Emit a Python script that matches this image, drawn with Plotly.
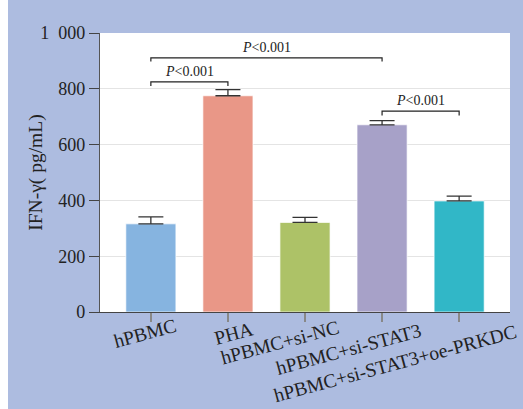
import plotly.graph_objects as go

categories = ["hPBMC", "PHA", "hPBMC+si-NC", "hPBMC+si-STAT3", "hPBMC+si-STAT3+oe-PRKDC"]
means = [316, 775, 321, 671, 398]
errors = [25, 22, 18, 15, 17]
colors = ["#86B4E0", "#E99787", "#ADC267", "#A7A1C8", "#31B7C7"]
ytick_vals = [0, 200, 400, 600, 800, 1000]
ytick_text = ["0", "200", "400", "600", "800", "1\u2007000"]
# significance brackets: (left index, right index, top value, tail value)
brackets = [(0, 3, 911, 898), (0, 1, 825, 810), (3, 4, 720, 704)]
p_text = "<i>P</i>&lt;0.001"
# label offsets (px) relative to tick: dx, dy
label_dx = [-6, 6, -25, -34, -64]
label_dy = [-21, -21, -30, -37, -51]

BG = "rgb(173,188,224)"
xs = list(range(len(categories)))

fig = go.Figure()
fig.add_trace(go.Bar(
    x=xs, y=means, width=0.65,
    marker=dict(color=colors, line=dict(color="rgba(255,255,255,0.7)", width=1)),
    error_y=dict(type="data", array=errors, arrayminus=[0] * len(errors),
                 symmetric=False, visible=True, color="#333333",
                 thickness=1.3, width=12.5),
    showlegend=False,
))

for a, b, top, tail in brackets:
    fig.add_trace(go.Scatter(
        x=[a, a, b, b], y=[tail, top, top, tail], mode="lines",
        line=dict(color="#222222", width=1.2), showlegend=False, hoverinfo="skip",
    ))
    fig.add_annotation(x=(a + b) / 2, y=top, xref="x", yref="y", text=p_text,
                       showarrow=False, yanchor="bottom", yshift=1,
                       font=dict(family="Liberation Serif", size=14, color="#222222"))

for i, lab in enumerate(categories):
    fig.add_annotation(x=i, y=0, xref="x", yref="y", text=lab, showarrow=False,
                       textangle=-15, xanchor="center", yanchor="middle",
                       xshift=label_dx[i], yshift=label_dy[i],
                       font=dict(family="Liberation Serif", size=19.5, color="#222222"))

# y-axis title
fig.add_annotation(x=-0.158, y=0.5, xref="paper", yref="paper", text="IFN-\u03b3( pg/mL)",
                   showarrow=False, textangle=-90, xanchor="center", yanchor="middle",
                   font=dict(family="Liberation Serif", size=19.5, color="#222222"))

# white strip at left edge of page
fig.add_shape(type="rect", xref="paper", yref="paper", x0=-0.26, x1=-0.2244,
              y0=-0.4, y1=1.2, fillcolor="white", line=dict(width=0), layer="below")

fig.update_layout(
    width=523, height=409,
    margin=dict(l=100, r=13, t=33, b=97, autoexpand=False),
    paper_bgcolor=BG, plot_bgcolor="white",
    font=dict(family="Liberation Serif", color="#222222"),
    xaxis=dict(range=[-0.66, 4.66], tickvals=xs, ticktext=[""] * 5, automargin=False,
               showgrid=False, zeroline=False, showline=True, linecolor="#444444",
               linewidth=1.3, ticks="outside", ticklen=9, tickcolor="#888888",
               tickwidth=1.5),
    yaxis=dict(range=[0, 1000], tickvals=ytick_vals, ticktext=ytick_text, automargin=False,
               showgrid=True, gridcolor="#E4E4E4", gridwidth=1.2, zeroline=False,
               showline=True, linecolor="#555555", linewidth=1.3,
               ticks="outside", ticklen=10, tickcolor="#444444", tickwidth=1.2,
               tickfont=dict(family="Liberation Serif", size=18, color="#222222")),
)

fig.write_html("out.html", config={"displayModeBar": False},
               post_script="document.body.style.margin='0';document.body.style.overflow='hidden';")
